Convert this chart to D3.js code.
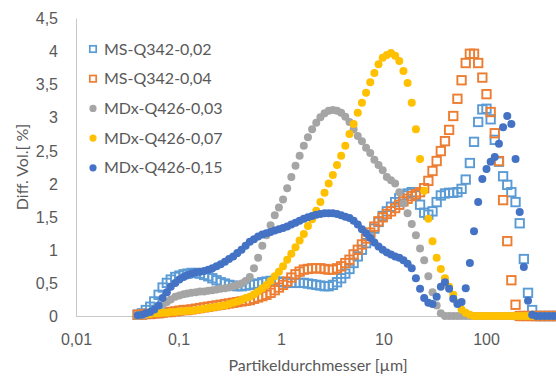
<!DOCTYPE html>
<html lang="de">
<head>
<meta charset="UTF-8">
<title>Partikelgrößenverteilung</title>
<script src="https://d3js.org/d3.v7.min.js"></script>
<style>
  body { margin: 0; background: #fff; }
  svg { display: block; font-family: Lato, "Liberation Sans", sans-serif; }
  .axis text { fill: #595959; font-size: 16px; }
  .axis path { stroke: #c9c9c9; stroke-width: 1; }
  .label { fill: #595959; font-size: 16px; }
</style>
</head>
<body>
<script>
// Kanalgrenzen [µm]
const sizes = [
  0.040, 0.044, 0.048, 0.053, 0.058, 0.064, 0.070, 0.077, 0.084, 0.093,
  0.102, 0.112, 0.122, 0.134, 0.148, 0.162, 0.178, 0.195, 0.214, 0.235,
  0.258, 0.284, 0.311, 0.342, 0.375, 0.412, 0.452, 0.496, 0.545, 0.598,
  0.657, 0.721, 0.791, 0.869, 0.954, 1.047, 1.149, 1.261, 1.385, 1.520,
  1.669, 1.832, 2.011, 2.208, 2.423, 2.660, 2.920, 3.206, 3.519, 3.863,
  4.241, 4.656, 5.111, 5.611, 6.159, 6.761, 7.422, 8.148, 8.944, 9.819,
  10.78, 11.83, 12.99, 14.26, 15.65, 17.18, 18.86, 20.71, 22.73, 24.95,
  27.39, 30.07, 33.01, 36.24, 39.78, 43.67, 47.94, 52.62, 57.77, 63.41,
  69.61, 76.42, 83.89, 92.09, 101.1, 111.0, 121.8, 133.7, 146.8, 161.2,
  176.8, 194.2, 213.2, 234.0, 256.9, 282.1, 309.6, 339.9, 373.1, 409.6,
  449.7, 493.6
];

// Diff. Vol. [%]
const msQ342_002 = [
  0.02, 0.04, 0.09, 0.14, 0.22, 0.32, 0.43, 0.50, 0.55, 0.59,
  0.61, 0.63, 0.64, 0.65, 0.65, 0.64, 0.62, 0.60, 0.57, 0.54,
  0.51, 0.49, 0.47, 0.46, 0.45, 0.45, 0.46, 0.47, 0.48, 0.49,
  0.51, 0.52, 0.53, 0.53, 0.52, 0.51, 0.50, 0.50, 0.50, 0.50,
  0.50, 0.49, 0.48, 0.47, 0.46, 0.45, 0.45, 0.47, 0.51, 0.57,
  0.64, 0.71, 0.80, 0.90, 1.00, 1.10, 1.21, 1.32, 1.42, 1.51,
  1.58, 1.65, 1.72, 1.78, 1.82, 1.85, 1.87, 1.82, 1.68, 1.56,
  1.53, 1.58, 1.72, 1.82, 1.85, 1.86, 1.86, 1.87, 1.92, 2.06,
  2.31, 2.63, 2.93, 3.12, 3.13, 2.97, 2.66, 2.33, 2.11, 1.98,
  1.87, 1.72, 1.40, 0.86, 0.35, 0.09, 0, 0, 0, 0,
  0, 0
];
const msQ342_004 = [
  0.02, 0.02, 0.03, 0.03, 0.04, 0.04, 0.05, 0.06, 0.06, 0.07,
  0.08, 0.09, 0.09, 0.10, 0.11, 0.12, 0.13, 0.14, 0.15, 0.16,
  0.17, 0.18, 0.19, 0.20, 0.21, 0.22, 0.23, 0.24, 0.26, 0.28,
  0.30, 0.32, 0.35, 0.39, 0.43, 0.47, 0.52, 0.58, 0.63, 0.67,
  0.70, 0.71, 0.72, 0.72, 0.72, 0.71, 0.70, 0.70, 0.72, 0.75,
  0.80, 0.85, 0.93, 1.00, 1.08, 1.17, 1.26, 1.35, 1.43, 1.49,
  1.54, 1.58, 1.63, 1.68, 1.73, 1.77, 1.81, 1.84, 1.87, 1.93,
  2.04, 2.19, 2.34, 2.49, 2.64, 2.81, 3.02, 3.28, 3.56, 3.82,
  3.96, 3.96, 3.82, 3.60, 3.35, 3.08, 2.76, 2.34, 1.75, 1.13,
  0.54, 0.17, 0, 0, 0, 0, 0, 0, 0, 0,
  0, 0
];
const mdxQ426_003 = [
  0.00, 0.01, 0.02, 0.04, 0.07, 0.11, 0.16, 0.21, 0.25, 0.29,
  0.31, 0.33, 0.34, 0.35, 0.36, 0.37, 0.37, 0.38, 0.39, 0.40,
  0.41, 0.42, 0.43, 0.45, 0.47, 0.49, 0.53, 0.59, 0.72, 0.88,
  1.06, 1.22, 1.37, 1.52, 1.64, 1.76, 1.93, 2.10, 2.27, 2.42,
  2.57, 2.70, 2.82, 2.92, 3.00, 3.06, 3.10, 3.11, 3.10, 3.07,
  3.01, 2.93, 2.82, 2.72, 2.64, 2.54, 2.46, 2.36, 2.28, 2.20,
  2.10, 2.05, 2.00, 1.87, 1.70, 1.55, 1.39, 1.22, 1.02, 0.84,
  0.60, 0.36, 0.16, 0.04, 0, 0, 0, 0, 0, 0,
  0, 0, 0, 0, 0, 0, 0, 0, 0, 0,
  0, 0, 0, 0, 0, 0, 0, 0, 0, 0,
  0, 0
];
const mdxQ426_007 = [
  0.01, 0.02, 0.03, 0.03, 0.04, 0.04, 0.05, 0.05, 0.06, 0.06,
  0.07, 0.07, 0.08, 0.08, 0.09, 0.10, 0.11, 0.12, 0.13, 0.14,
  0.15, 0.16, 0.18, 0.20, 0.22, 0.24, 0.27, 0.29, 0.33, 0.37,
  0.42, 0.47, 0.53, 0.60, 0.67, 0.75, 0.85, 0.94, 1.04, 1.14,
  1.24, 1.36, 1.46, 1.59, 1.72, 1.86, 2.00, 2.13, 2.28, 2.42,
  2.57, 2.75, 2.90, 3.07, 3.22, 3.37, 3.53, 3.67, 3.80, 3.90,
  3.94, 3.97, 3.93, 3.85, 3.70, 3.52, 3.22, 2.82, 2.37, 1.89,
  1.47, 1.13, 0.88, 0.71, 0.57, 0.44, 0.32, 0.20, 0.10, 0.05,
  0.02, 0, 0, 0, 0, 0, 0, 0, 0, 0,
  0, 0, 0, 0, 0, 0, 0, 0, 0, 0,
  0, 0
];
const mdxQ426_015 = [
  0.01, 0.02, 0.04, 0.06, 0.10, 0.16, 0.27, 0.36, 0.44, 0.50,
  0.55, 0.59, 0.62, 0.64, 0.66, 0.67, 0.68, 0.70, 0.72, 0.75,
  0.78, 0.82, 0.86, 0.90, 0.95, 1.00, 1.06, 1.12, 1.16, 1.20,
  1.23, 1.25, 1.27, 1.29, 1.31, 1.33, 1.35, 1.38, 1.41, 1.44,
  1.47, 1.49, 1.51, 1.53, 1.54, 1.55, 1.55, 1.55, 1.54, 1.52,
  1.50, 1.48, 1.44, 1.38, 1.31, 1.25, 1.18, 1.11, 1.05, 1.00,
  0.96, 0.93, 0.90, 0.88, 0.84, 0.79, 0.72, 0.57, 0.41, 0.27,
  0.20, 0.18, 0.29, 0.44, 0.51, 0.41, 0.26, 0.18, 0.21, 0.42,
  0.80, 1.28, 1.72, 2.07, 2.22, 2.33, 2.40, 2.60, 2.85, 3.02,
  2.90, 2.37, 1.57, 0.74, 0.23, 0.02, 0, 0, 0, 0,
  0, 0
];

const seriesNames = ["MS-Q342-0,02", "MS-Q342-0,04", "MDx-Q426-0,03", "MDx-Q426-0,07", "MDx-Q426-0,15"];
const xTicks = [0.01, 0.1, 1, 10, 100];
const yTicks = [0, 0.5, 1, 1.5, 2, 2.5, 3, 3.5, 4, 4.5];

const series = [
  {name: seriesNames[0], values: msQ342_002, color: "#5b9bd5", shape: "square"},
  {name: seriesNames[1], values: msQ342_004, color: "#ed7d31", shape: "square"},
  {name: seriesNames[2], values: mdxQ426_003, color: "#a5a5a5", shape: "circle"},
  {name: seriesNames[3], values: mdxQ426_007, color: "#ffc000", shape: "circle"},
  {name: seriesNames[4], values: mdxQ426_015, color: "#4472c4", shape: "circle"}
];

const width = 556, height = 376;
const plotLeft = 76, plotBottom = 316, plotTop = 18, decade = 102.5;

const de = d3.formatLocale({decimal: ",", thousands: ".", grouping: [3], currency: ["", " €"]});
const fmt = de.format("~g");

const x = d3.scaleLog().domain([0.01, 1000]).range([plotLeft, plotLeft + 5 * decade]);
const y = d3.scaleLinear().domain([0, 4.5]).range([plotBottom, plotTop]);

const svg = d3.select("body").append("svg")
  .attr("width", width)
  .attr("height", height);

// axes
const xAxis = svg.append("g")
  .attr("class", "axis")
  .attr("transform", "translate(0," + plotBottom + ")")
  .call(d3.axisBottom(x).tickValues(xTicks).tickFormat(fmt).tickSize(0).tickPadding(18));
xAxis.select(".domain").attr("d", "M" + plotLeft + ",0.5H" + width);

const yAxis = svg.append("g")
  .attr("class", "axis")
  .attr("transform", "translate(" + plotLeft + ",0)")
  .call(d3.axisLeft(y).tickValues(yTicks).tickFormat(fmt).tickSize(0).tickPadding(18));
yAxis.selectAll("text").attr("dy", "0.35em");

// points
series.forEach(s => {
  const pts = sizes.map((d, i) => [d, s.values[i]]);
  const g = svg.append("g");
  if (s.shape === "square") {
    g.selectAll("rect").data(pts).enter().append("rect")
      .attr("x", d => x(d[0]) - 4.2)
      .attr("y", d => y(d[1]) - 4.2)
      .attr("width", 8.4)
      .attr("height", 8.4)
      .attr("fill", "none")
      .attr("stroke", s.color)
      .attr("stroke-width", 1.9);
  } else {
    g.selectAll("circle").data(pts).enter().append("circle")
      .attr("cx", d => x(d[0]))
      .attr("cy", d => y(d[1]))
      .attr("r", 4)
      .attr("fill", s.color);
  }
});

// legend
const legend = svg.append("g").attr("transform", "translate(93,49)");
series.forEach((s, i) => {
  const row = legend.append("g").attr("transform", "translate(0," + (i * 29.7) + ")");
  if (s.shape === "square") {
    row.append("rect")
      .attr("x", -3.2).attr("y", -3.2)
      .attr("width", 6.4).attr("height", 6.4)
      .attr("fill", "none")
      .attr("stroke", s.color)
      .attr("stroke-width", 1.7);
  } else {
    row.append("circle").attr("r", 3.6).attr("fill", s.color);
  }
  row.append("text")
    .attr("class", "label")
    .attr("x", 11)
    .attr("dy", "0.35em")
    .text(s.name);
});

// axis titles
svg.append("text")
  .attr("class", "label")
  .attr("x", 318)
  .attr("y", 365)
  .attr("dy", "0.35em")
  .attr("text-anchor", "middle")
  .text("Partikeldurchmesser [µm]");

svg.append("text")
  .attr("class", "label")
  .attr("transform", "translate(22,167) rotate(-90)")
  .attr("dy", "0.35em")
  .attr("text-anchor", "middle")
  .text("Diff. Vol.[ %]");
</script>
</body>
</html>
